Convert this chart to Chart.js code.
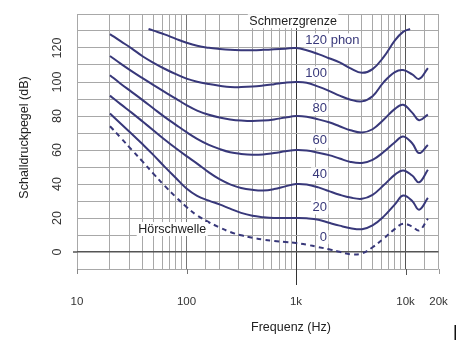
<!DOCTYPE html>
<html>
<head>
<meta charset="utf-8">
<script src="https://cdn.jsdelivr.net/npm/chart.js@4/dist/chart.umd.min.js"></script>
<style>
  html, body { margin: 0; padding: 0; background: #fff; }
  #wrap { width: 459px; height: 349px; position: relative; }
</style>
</head>
<body>
<div id="wrap"><canvas id="c" width="459" height="349"></canvas></div>
<script>
// Frequencies (Hz) shared by the 0 ... 100 phon contours
const freqs = [20, 25, 31.5, 40, 50, 63, 80, 100, 125, 160, 200, 250, 315, 400, 500, 630, 800,
               1000, 1250, 1600, 2000, 2500, 3150, 4000, 5000, 6300, 8000, 9500, 11500, 13300, 16000];

// Sound pressure level (dB) of each equal-loudness contour
const phon0   = [74, 67.3, 60.2, 53, 46, 39, 32.3, 26.5, 21.5, 17.5, 14.5, 11.8, 9.8, 8.4, 7.3, 6.5, 5.9,
                 5.3, 4.3, 2.9, 1.6, 0.1, -1.3, -0.8, 2.8, 7.8, 13.6, 16.6, 15, 12.7, 19.6];
const phon20  = [81.5, 75.6, 69.6, 63.2, 57, 50.2, 43.5, 37.3, 33, 30.2, 28, 25.5, 23, 21.3, 20.5, 20, 20,
                 20, 19.8, 19, 17.2, 15.5, 14, 13.4, 15.6, 20.8, 28, 33.2, 30, 24.9, 31.8];
const phon40  = [92, 87, 82, 76.6, 71.5, 66.2, 61, 56.4, 52, 46.8, 42.8, 39.8, 37.7, 36.6, 36.2, 37, 38.6,
                 40, 39.7, 38, 35.8, 33.7, 32, 31.3, 33.6, 39.2, 45.5, 48, 45, 41, 48.4];
const phon60  = [104, 99, 94.2, 89.2, 84.4, 79.5, 74.8, 70.5, 66.6, 63, 60.6, 58.7, 57.7, 57.2, 57.4, 58.2, 59.2,
                 60, 59.7, 58.4, 57, 55, 53, 52.4, 54.2, 58.8, 64.6, 68, 64, 58.2, 63];
const phon80  = [115.3, 110.8, 106.4, 102.1, 98.2, 94.2, 90.2, 86.4, 83.2, 80.7, 79.1, 78, 77.3, 77, 77.3, 78, 79.1,
                 80, 79.6, 78, 76.3, 74, 71.6, 70.3, 72.2, 77.8, 84.2, 86.6, 82, 77.5, 80.8];
const phon100 = [128.2, 124, 119.8, 115, 111.3, 107.8, 104.6, 102, 100.2, 98.8, 97.8, 97, 97, 97.3, 97.9, 98.7, 99.6,
                 100, 99.6, 97.3, 94.8, 92, 89.6, 88.6, 91.6, 99.8, 105.8, 107, 104.5, 101.8, 108.2];

// The 120 phon contour (threshold of pain) has its own frequency range
const freqs120 = [45, 50, 63, 80, 100, 125, 160, 200, 250, 315, 400, 500, 630, 800,
                  1000, 1250, 1600, 2000, 2500, 3150, 4000, 5000, 6300, 8000, 9500, 11000];
const phon120  = [131.2, 130.2, 128, 125.4, 123.1, 121.3, 120.1, 119.4, 118.9, 118.7, 118.7, 118.9, 119.2, 119.6,
                  120, 118.7, 116.4, 114, 111.5, 108, 105.4, 107.6, 114.6, 124.5, 129.5, 131.2];

// Axis tick labels
const xTickValues = [10, 100, 1000, 10000, 20000];
const xTickNames  = ['10', '100', '1k', '10k', '20k'];
const yTickValues = [0, 20, 40, 60, 80, 100, 120];

// Contour names, in the same order as the datasets below
const contourNames = ['120 phon', '100', '80', '60', '40', '20', '0'];

const NAVY = '#38387a';
const FONT = '"Liberation Sans", Arial, Helvetica, sans-serif';

function pts(fx, fy) { return fx.map((f, i) => ({ x: f, y: fy[i] })); }

const contours = [
  { data: pts(freqs120, phon120) },
  { data: pts(freqs, phon100) },
  { data: pts(freqs, phon80) },
  { data: pts(freqs, phon60) },
  { data: pts(freqs, phon40) },
  { data: pts(freqs, phon20) },
  { data: pts(freqs, phon0), borderDash: [5, 4] }
].map((d, i) => Object.assign({
  label: contourNames[i],
  borderColor: NAVY,
  borderWidth: 2,
  pointRadius: 0,
  fill: false,
  tension: 0.4
}, d));

// Text placed on the chart in data coordinates (frequency, dB)
const contourLabelPos = [124.5, 105.1, 84.5, 65.4, 45.7, 26.2, 8.7];   // dB centre of each number
const contourLabelRightHz = 1920;

const overlay = {
  id: 'overlay',
  afterDatasetsDraw(chart) {
    const ctx = chart.ctx;
    const xs = chart.scales.x, ys = chart.scales.y;

    function boxedText(text, x, y, align, font, color) {
      ctx.save();
      ctx.font = font;
      ctx.textBaseline = 'middle';
      const w = ctx.measureText(text).width;
      const left = align === 'right' ? x - w : (align === 'center' ? x - w / 2 : x);
      ctx.fillStyle = '#fff';
      ctx.fillRect(left - 1.5, y - 7, w + 3, 14);
      ctx.fillStyle = color;
      ctx.textAlign = 'left';
      ctx.fillText(text, left, y);
      ctx.restore();
    }

    // contour level labels
    const rx = xs.getPixelForValue(contourLabelRightHz);
    contourNames.forEach((name, i) => {
      const y = ys.getPixelForValue(contourLabelPos[i]);
      if (i === 0) {
        ctx.save();
        ctx.font = '13px ' + FONT;
        const wNum = ctx.measureText('120').width;
        ctx.restore();
        boxedText(name, rx - wNum, y, 'left', '13px ' + FONT, NAVY);
      } else {
        boxedText(name, rx, y, 'right', '13px ' + FONT, NAVY);
      }
    });

    boxedText('Schmerzgrenze', xs.getPixelForValue(940), ys.getPixelForValue(135.8), 'center', '12.5px ' + FONT, '#222');
    boxedText('Hörschwelle', xs.getPixelForValue(36.2), ys.getPixelForValue(13.5), 'left', '12.5px ' + FONT, '#222');
  },
  afterDraw(chart) {
    const ctx = chart.ctx;
    const xs = chart.scales.x, ys = chart.scales.y;
    const area = chart.chartArea;
    ctx.save();

    // decade marks reaching below the plot
    [[10, 5, '#888'], [100, 5, '#777'], [1000, 16, '#333'], [10000, 6, '#555'], [20000, 5, '#999']].forEach(([v, len, col]) => {
      const x = Math.round(xs.getPixelForValue(v)) + 0.5;
      ctx.strokeStyle = col;
      ctx.lineWidth = 1;
      ctx.beginPath();
      ctx.moveTo(x, area.bottom);
      ctx.lineTo(x, area.bottom + len);
      ctx.stroke();
    });

    // zero line reaching left of the plot
    const y0 = ys.getPixelForValue(0);
    ctx.strokeStyle = '#555';
    ctx.lineWidth = 1.5;
    ctx.beginPath();
    ctx.moveTo(area.left - 4, y0);
    ctx.lineTo(area.left, y0);
    ctx.stroke();

    // vertical y tick labels
    ctx.fillStyle = '#333';
    ctx.font = '12.5px ' + FONT;
    ctx.textAlign = 'center';
    ctx.textBaseline = 'middle';
    yTickValues.forEach(v => {
      ctx.save();
      ctx.translate(57.5, ys.getPixelForValue(v));
      ctx.rotate(-Math.PI / 2);
      ctx.fillText(String(v), 0, 0);
      ctx.restore();
    });

    // axis titles
    ctx.fillStyle = '#222';
    ctx.font = '12.5px ' + FONT;
    ctx.save();
    ctx.translate(25, 137.5);
    ctx.rotate(-Math.PI / 2);
    ctx.fillText('Schalldruckpegel (dB)', 0, 0);
    ctx.restore();
    ctx.fillText('Frequenz (Hz)', 291, 328);

    // small bar at the lower right corner
    ctx.fillStyle = '#111';
    ctx.fillRect(454.5, 325, 1.5, 15);
    ctx.restore();
  }
};

new Chart(document.getElementById('c'), {
  type: 'line',
  data: { datasets: contours },
  plugins: [overlay],
  options: {
    responsive: false,
    animation: false,
    devicePixelRatio: 1,
    layout: { padding: { top: 14, right: 20.5, bottom: 0, left: 0 } },
    plugins: { legend: { display: false }, tooltip: { enabled: false } },
    scales: {
      x: {
        type: 'logarithmic',
        min: 10,
        max: 20000,
        afterFit(s) { s.height = 80; s.paddingLeft = 0; s.paddingRight = 0; },
        border: { display: false },
        grid: {
          drawTicks: false,
          lineWidth: 1,
          color(c) {
            const v = Math.round(c.tick.value);
            if (v === 1000) return '#333';
            if (v === 10000) return '#555';
            if (v === 100) return '#777';
            return '#a8a8a8';
          }
        },
        ticks: {
          autoSkip: false,
          maxRotation: 0,
          padding: 26,
          color: '#333',
          font: { family: FONT, size: 11.5 },
          callback(v) {
            const i = xTickValues.indexOf(Math.round(v));
            return i >= 0 ? xTickNames[i] : '';
          }
        }
      },
      y: {
        min: -10,
        max: 140,
        afterFit(s) { s.width = 77; s.paddingTop = 0; s.paddingBottom = 0; },
        border: { display: false },
        grid: {
          drawTicks: false,
          color(c) { return c.tick.value === 0 ? '#555' : '#a8a8a8'; },
          lineWidth(c) { return c.tick.value === 0 ? 1.5 : 1; }
        },
        ticks: { stepSize: 10, display: false }
      }
    }
  }
});
</script>
</body>
</html>
